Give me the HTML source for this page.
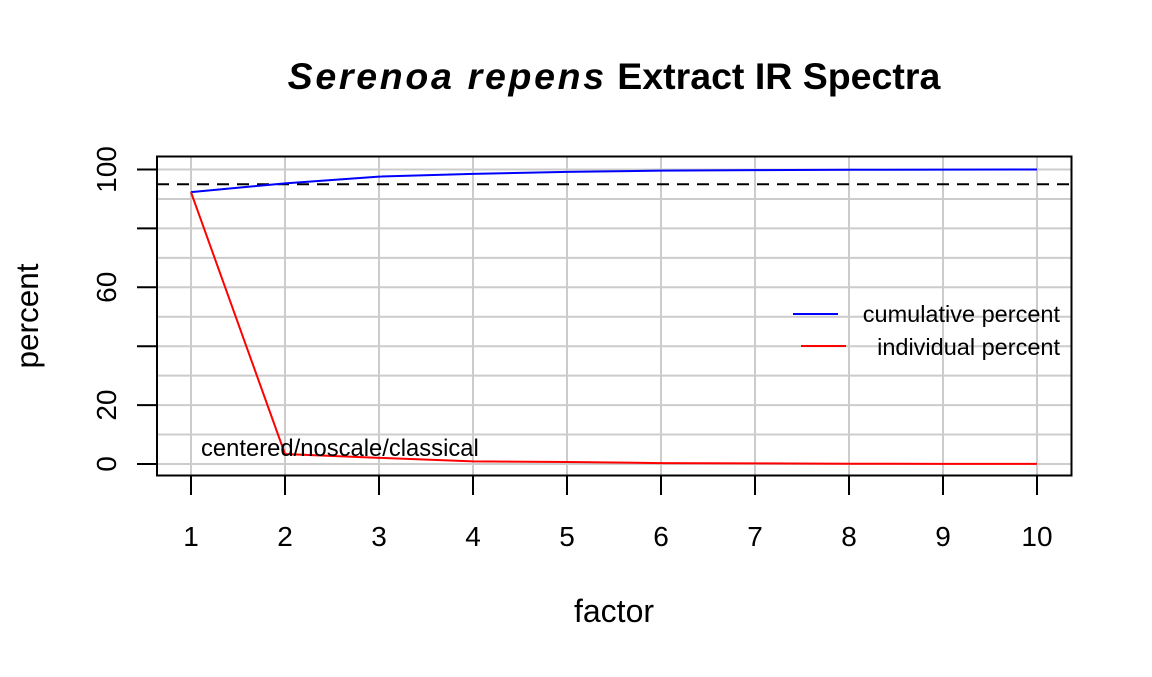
<!DOCTYPE html>
<html><head><meta charset="utf-8"><style>
body{margin:0;background:#fff}
svg text{font-family:"Liberation Sans",Arial,sans-serif}
</style></head><body>
<svg id="chart" width="1152" height="672" xmlns="http://www.w3.org/2000/svg">
<text x="614" y="89" text-anchor="middle" font-size="37.5" font-weight="bold"><tspan font-style="italic" letter-spacing="2.7">Serenoa repens</tspan> Extract IR Spectra</text>
<g id="grid"></g>
<g id="marks"></g>
<rect x="157" y="156.5" width="914.5" height="319" fill="none" stroke="#000" stroke-width="2"/>
<g id="axes"></g>
<text x="614" y="622" text-anchor="middle" font-size="32">factor</text>
<text transform="translate(38,316) rotate(-90)" text-anchor="middle" font-size="31.5">percent</text>
<text x="201" y="456" font-size="23.8">centered/noscale/classical</text>
<g>
<line x1="793" y1="314" x2="838" y2="314" stroke="#0000ff" stroke-width="2"/>
<text x="1060" y="322" text-anchor="end" font-size="23.5">cumulative percent</text>
<line x1="801" y1="346" x2="846" y2="346" stroke="#ff0000" stroke-width="2"/>
<text x="1060" y="355" text-anchor="end" font-size="23.5">individual percent</text>
</g>
</svg>
<script>
const factors=[1,2,3,4,5,6,7,8,9,10];
const cumulative=[92.3,95.3,97.6,98.5,99.2,99.6,99.8,99.9,99.95,100];
const individual=[92.3,3.4,2.1,0.9,0.7,0.3,0.2,0.1,0.05,0.05];
const xTicks=[1,2,3,4,5,6,7,8,9,10];
const yTicks=[0,20,40,60,80,100];
const yLabels=["0","20","","60","","100"];
const refLine=95;
const NS="http://www.w3.org/2000/svg";
const sx=v=>191+(v-1)*94;
const sy=v=>464-v*2.945;
function mk(tag,attrs,parent){const e=document.createElementNS(NS,tag);for(const k in attrs)e.setAttribute(k,attrs[k]);parent.appendChild(e);return e;}
const grid=document.getElementById('grid'),marks=document.getElementById('marks'),axes=document.getElementById('axes');
for(const f of xTicks){const l=mk('line',{x1:sx(f),x2:sx(f),y1:157,y2:475,stroke:'#cccccc','stroke-width':2},grid);

}
for(let v=0;v<=100;v+=10){const l=mk('line',{x1:157,x2:1071,y1:sy(v),y2:sy(v),stroke:'#cccccc','stroke-width':2},grid);

}
const d=mk('line',{x1:157,x2:1071,y1:sy(refLine),y2:sy(refLine),stroke:'#000','stroke-width':2,'stroke-dasharray':'12,8'},marks);


const pc=mk('polyline',{points:factors.map((f,i)=>sx(f)+','+sy(cumulative[i])).join(' '),fill:'none',stroke:'#0000ff','stroke-width':2},marks);


const pi=mk('polyline',{points:factors.map((f,i)=>sx(f)+','+sy(individual[i])).join(' '),fill:'none',stroke:'#ff0000','stroke-width':2},marks);


for(const f of xTicks){const t=mk('line',{x1:sx(f),x2:sx(f),y1:476,y2:495,stroke:'#000','stroke-width':2},axes);


const tx=mk('text',{x:sx(f),y:546,'text-anchor':'middle','font-size':28},axes);tx.textContent=f;

}
yTicks.forEach((v,i)=>{const t=mk('line',{x1:137,x2:157,y1:sy(v),y2:sy(v),stroke:'#000','stroke-width':2},axes);


if(yLabels[i]){const tx=mk('text',{transform:`translate(116,${sy(v)}) rotate(-90)`,'text-anchor':'middle','font-size':28},axes);tx.textContent=yLabels[i];

}});
</script>
</body></html>
